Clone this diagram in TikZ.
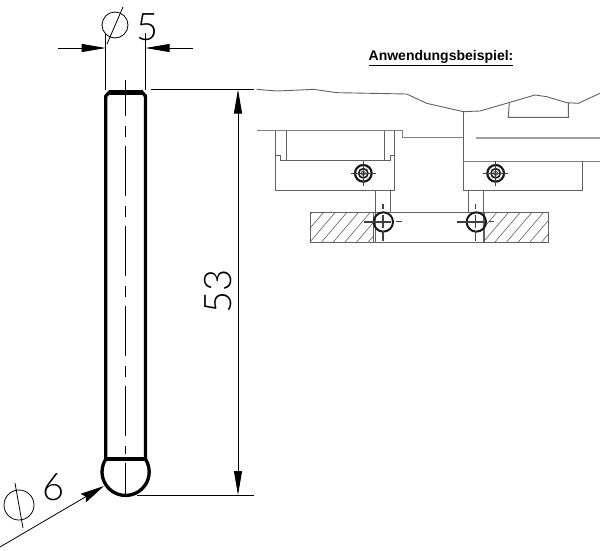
\documentclass[tikz,border=0pt]{standalone}
\usepackage{fontspec}
\setmainfont{Liberation Sans}
\newfontfamily\dimfont[UprightFont={* Light}]{Lato}
\usetikzlibrary{arrows.meta}
\definecolor{dgray}{gray}{0.38}
\tikzset{
  dimline/.style={draw=black,line width=0.8pt},
  headline/.style={dimline,-{Triangle[length=24pt,width=8pt]}},
  pinoutline/.style={draw=black,line width=3.3pt,line join=round},
  centre/.style={draw=black,line width=0.9pt,dash pattern=on 50pt off 9.5pt on 11pt off 9.5pt,dash phase=14pt},
  dimtext/.style={inner sep=0pt,font=\dimfont\fontsize{38pt}{38pt}\selectfont},
  sketch/.style={draw=dgray,line width=0.9pt},
  sketchthick/.style={draw=dgray!80,line width=1.3pt},
  hatchline/.style={draw=dgray,line width=0.6pt},
  ringline/.style={draw=black!90,line width=2pt},
  crossline/.style={draw=black!75,line width=1.7pt},
}
\begin{document}
\begin{tikzpicture}[x=1pt,y=-1pt]
\useasboundingbox[fill=white] (0,0) rectangle (600,550);
% pin
\draw[pinoutline] (105.8,459) -- (105.8,96) -- (109.5,92) -- (141.8,92) -- (145.5,96) -- (145.5,459);
\draw[pinoutline,line width=4.6pt] (109,92.6) -- (142.5,92.6);
\draw[pinoutline] (106,459) -- (145.5,459);
\draw[pinoutline] (105.8,459) arc[start angle=213,end angle=-33,radius=23.6];
\draw[centre] (125.3,80) -- (125.3,454);
\draw[dimline] (125.3,463) -- (125.3,497);
% dimension 5
\coordinate (e5la) at (105.7,33);
\coordinate (e5lb) at (105.7,90);
\coordinate (e5ra) at (145.5,33);
\coordinate (e5rb) at (145.5,90);
\draw[dimline] (e5la) -- (e5lb);
\draw[dimline] (e5ra) -- (e5rb);
\coordinate (a5lo) at (58,48);
\coordinate (a5li) at (105.7,48);
\coordinate (a5ro) at (193,48);
\coordinate (a5ri) at (145.5,48);
\draw[headline] (a5lo) -- (a5li);
\draw[headline] (a5ro) -- (a5ri);
\draw[dimline] (115,25) circle[radius=13];
\draw[dimline] (107,44) -- (123,7);
\node[dimtext,anchor=center] (five) at (147.5,27) {5};
% dimension 53
\coordinate (e53ta) at (151,89.5);
\coordinate (e53tb) at (254,89.5);
\coordinate (e53ba) at (137,495);
\coordinate (e53bb) at (254,495);
\draw[dimline] (e53ta) -- (e53tb);
\draw[dimline] (e53ba) -- (e53bb);
\coordinate (a53t) at (238,89.5);
\coordinate (a53b) at (238,495);
\draw[headline,{Triangle[length=24pt,width=8pt]}-{Triangle[length=24pt,width=8pt]}] (a53t) -- (a53b);
\node[dimtext,rotate=90,anchor=center] (fiftythree) at (218,291) {53};
% dimension 6
\coordinate (l6a) at (0,547);
\coordinate (l6b) at (104,486);
\draw[dimline,-{Stealth[length=24pt,width=10pt,inset=3pt]}] (l6a) -- (l6b);
\draw[dimline] (19,505) circle[radius=15];
\draw[dimline] (15,483) -- (23,528);
\node[dimtext,anchor=center] (six) at (53.5,487) {6};
% title
\node[inner sep=0pt,font=\fontsize{14pt}{16pt}\selectfont\bfseries] (title) at (441,58) {\underline{Anwendungsbeispiel:}};
% application sketch (in units of a third of a pixel)
\begin{scope}[shift={(250,40)},x=0.3333pt,y=-0.3333pt]
  \draw[sketch] (20,148) -- (80,153) -- (150,150) -- (190,148) -- (260,158) -- (470,162) -- (530,190) -- (640,215) -- (690,213) -- (780,187) -- (855,165) -- (890,170) -- (950,188) -- (985,190) -- (1050,160);
  \draw[sketchthick] (20,272) -- (458,272) -- (458,292) -- (640,292);
  \draw[sketch] (640,215) -- (640,450);
  \draw[sketchthick] (640,364) -- (1050,364);
  \draw[sketch] (997,364) -- (997,450) -- (640,450);
  \draw[sketchthick,draw=dgray!60] (677,294) -- (1050,294);
  \draw[sketch] (778,187) -- (775,232) -- (955,232) -- (955,188);
  \draw[sketch] (77,272) -- (77,450) -- (433,450) -- (433,272);
  \draw[sketch] (109,272) -- (109,362);
  \draw[sketch] (403,272) -- (403,362);
  \draw[sketch] (77,347) -- (90,347) -- (90,362) -- (420,362) -- (420,347) -- (433,347);
  \draw[sketch] (377,450) -- (377,606);
  \draw[sketch] (421,450) -- (421,520);
  \draw[sketch] (655,450) -- (655,520);
  \draw[sketch] (700,450) -- (700,606);
  % hatching
  \begin{scope}
    \clip (180,518) rectangle (370,606);
    \foreach \h in {0,35,...,350} \draw[hatchline] (110+\h,606) -- (185+\h,518);
  \end{scope}
  \begin{scope}
    \clip (703,518) rectangle (895,606);
    \foreach \h in {0,35,...,350} \draw[hatchline] (630+\h,606) -- (705+\h,518);
  \end{scope}
  \draw[sketch] (180,518) rectangle (895,606);
  \draw[sketch] (370,518) -- (370,606);
  \draw[sketch] (703,518) -- (703,606);
  % pin ends in the bores
  \foreach \cx/\ll/\rr in {400/343/456,679/620/732} {
    \draw[ringline] (\cx,546) circle[radius=29];
    \draw[crossline] (\cx-2,492) -- (\cx-2,508);
    \draw[crossline] (\cx-2,525) -- (\cx-2,563);
    \draw[crossline] (\cx-2,572) -- (\cx-2,602);
    \draw[crossline] (\ll,546) -- (\cx+22,546);
    \draw[crossline,line width=1pt] (\cx+38,546) -- (\rr,546);
  }
  % target marks
  \foreach \cx in {340,737} {
    \draw[ringline,line width=2.2pt] (\cx,400) circle[radius=25];
    \draw[ringline,line width=1.6pt] (\cx,400) circle[radius=14];
    \draw[crossline,line width=0.9pt] (\cx,400) circle[radius=6];
    \draw[crossline,line width=1.3pt] (\cx-38,400) -- (\cx+38,400);
    \draw[crossline,line width=1.3pt] (\cx,362) -- (\cx,438);
  }
\end{scope}
\end{tikzpicture}
\end{document}
